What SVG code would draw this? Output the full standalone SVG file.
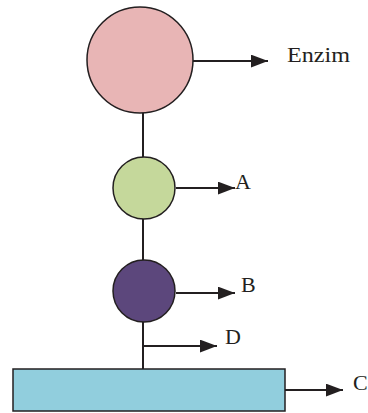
<svg xmlns="http://www.w3.org/2000/svg" width="368" height="413" viewBox="0 0 368 413">
  <style>
    .node { stroke: #231f20; stroke-width: 1.5; }
    .link { stroke: #231f20; stroke-width: 2; fill: none; }
    .label { font-family: "Liberation Serif", "Times New Roman", serif; font-size: 22px; fill: #231f20; }
  </style>
  <defs>
    <marker id="head" viewBox="0 0 16 12" refX="16" refY="6" markerWidth="17" markerHeight="13" markerUnits="userSpaceOnUse" orient="auto">
      <path d="M0,0 L16,6 L0,12 Z" fill="#231f20"/>
    </marker>
  </defs>

  <g id="connectors">
    <!-- vertical backbone -->
    <line class="link" x1="143" y1="112" x2="143" y2="157"/>
    <line class="link" x1="143" y1="219" x2="143" y2="260"/>
    <line class="link" x1="143" y1="322" x2="143" y2="369"/>
    <!-- label pointers -->
    <line class="link" x1="193" y1="61" x2="268" y2="61" marker-end="url(#head)"/>
    <line class="link" x1="176" y1="188" x2="235" y2="188" marker-end="url(#head)"/>
    <line class="link" x1="176" y1="293" x2="235" y2="293" marker-end="url(#head)"/>
    <line class="link" x1="143" y1="346" x2="217" y2="346" marker-end="url(#head)"/>
    <line class="link" x1="285" y1="390" x2="343" y2="390" marker-end="url(#head)"/>
  </g>

  <g id="enzim">
    <circle class="node" cx="140" cy="60" r="53" fill="#e8b5b5"/>
    <text class="label" x="287" y="62" textLength="63" lengthAdjust="spacingAndGlyphs">Enzim</text>
  </g>
  <g id="a">
    <circle class="node" cx="144" cy="188" r="31" fill="#c5d89b"/>
    <text class="label" x="235" y="189">A</text>
  </g>
  <g id="b">
    <circle class="node" cx="144" cy="291" r="31" fill="#5c477c"/>
    <text class="label" x="241" y="292">B</text>
  </g>
  <g id="d">
    <text class="label" x="225" y="344">D</text>
  </g>
  <g id="c">
    <rect class="node" x="13" y="369" width="272" height="42" fill="#91cedd"/>
    <text class="label" x="353" y="390">C</text>
  </g>
</svg>
